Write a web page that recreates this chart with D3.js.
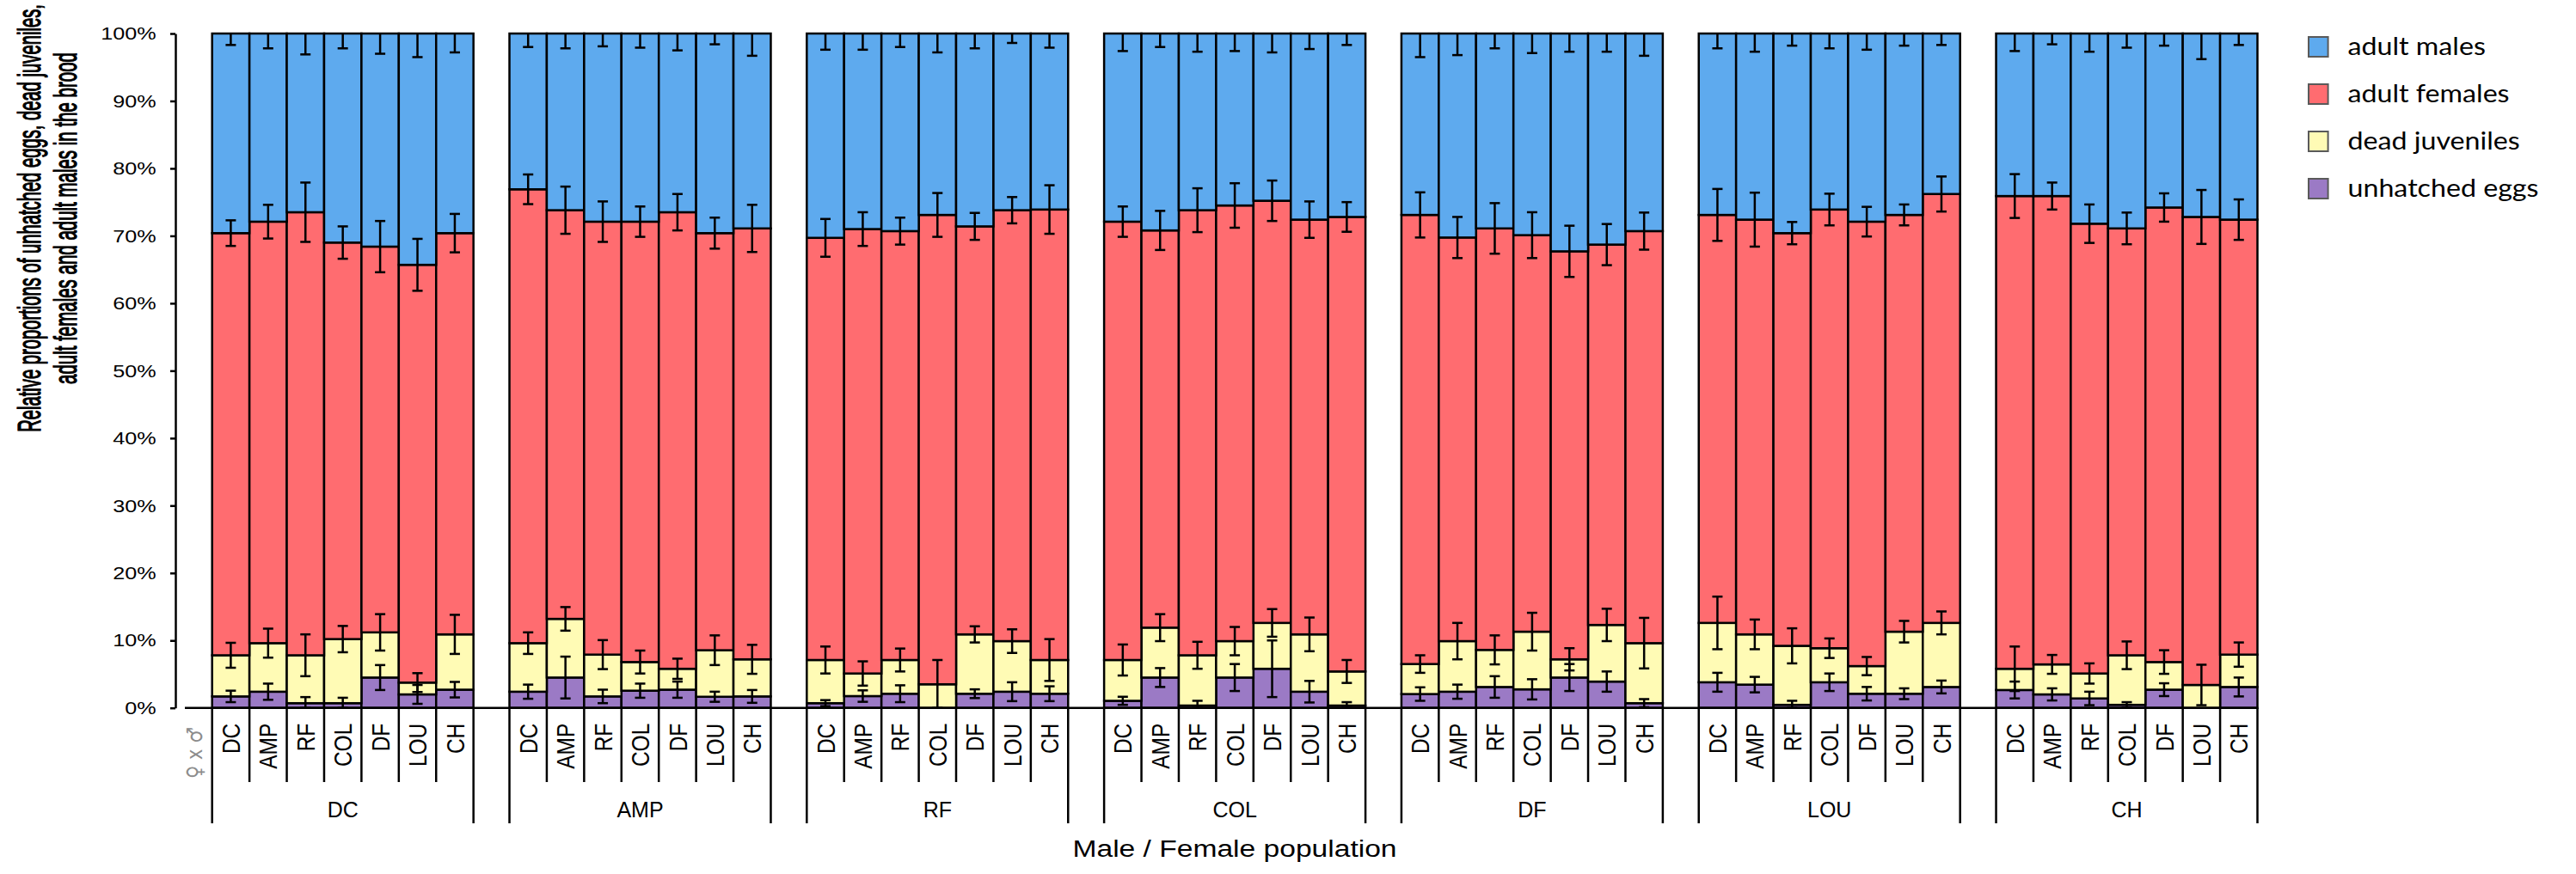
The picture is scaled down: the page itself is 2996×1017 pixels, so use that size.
<!DOCTYPE html>
<html>
<head>
<meta charset="utf-8">
<script src="https://cdn.jsdelivr.net/npm/d3@7"></script>
<style>
  body { margin: 0; background: #fff; }
  svg { display: block; }
  text { font-family: "Liberation Sans", Arial, sans-serif; }
</style>
</head>
<body>
<svg id="chart" width="2996" height="1017"></svg>
<script>
// female population (outer groups) and male population (bars within a group)
var groups = ['DC', 'AMP', 'RF', 'COL', 'DF', 'LOU', 'CH'];
var pops = ['DC', 'AMP', 'RF', 'COL', 'DF', 'LOU', 'CH'];
var keys = ['eggs', 'juveniles', 'females', 'males'];
var legendKeys = ['males', 'females', 'juveniles', 'eggs'];
var legendLabels = ['adult males', 'adult females', 'dead juveniles', 'unhatched eggs'];
var yTicks = [0, 10, 20, 30, 40, 50, 60, 70, 80, 90, 100];
var titleLines = ['Relative proportions of unhatched eggs, dead juveniles,', 'adult females and adult males in the brood'];

// mean share of the brood (%), one row per group, one value per bar
var eggs = [
    [1.7, 2.4, 0.7, 0.7, 4.5, 2.0, 2.7],
    [2.4, 4.5, 1.7, 2.55, 2.7, 1.65, 1.7],
    [0.7, 1.75, 2.1, 0, 2.1, 2.4, 2.1],
    [1.05, 4.5, 0.35, 4.5, 5.8, 2.4, 0.35],
    [2.05, 2.4, 3.1, 2.75, 4.5, 3.9, 0.7],
    [3.8, 3.45, 0.45, 3.8, 2.1, 2.1, 3.1],
    [2.65, 2.0, 1.4, 0.45, 2.7, 0, 3.1]
];
var juveniles = [
    [6.1, 7.2, 7.1, 9.5, 6.7, 1.75, 8.2],
    [7.2, 8.7, 6.2, 4.25, 3.1, 6.9, 5.5],
    [6.4, 3.35, 5.0, 3.5, 8.8, 7.5, 5.0],
    [6.05, 7.4, 7.45, 5.4, 6.8, 8.5, 5.05],
    [4.45, 7.5, 5.5, 8.55, 2.7, 8.4, 8.9],
    [8.8, 7.45, 8.75, 5.05, 4.1, 9.2, 9.5],
    [3.15, 4.45, 3.7, 7.35, 4.1, 3.4, 4.8]
];
var females = [
    [62.6, 62.5, 65.7, 58.8, 57.2, 61.95, 59.5],
    [67.3, 60.6, 64.2, 65.3, 67.7, 61.85, 63.9],
    [62.6, 65.9, 63.6, 69.6, 60.5, 63.9, 66.8],
    [65.0, 58.9, 66.0, 64.6, 62.6, 61.5, 67.4],
    [66.6, 59.85, 62.5, 58.8, 60.5, 56.4, 61.1],
    [60.5, 61.5, 61.2, 65.05, 65.9, 61.8, 63.6],
    [70.1, 69.45, 66.7, 63.3, 67.4, 69.4, 64.5]
];
var males = [
    [29.6, 27.9, 26.5, 31.0, 31.6, 34.3, 29.6],
    [23.1, 26.2, 27.9, 27.9, 26.5, 29.6, 28.9],
    [30.3, 29.0, 29.3, 26.9, 28.6, 26.2, 26.1],
    [27.9, 29.2, 26.2, 25.5, 24.8, 27.6, 27.2],
    [26.9, 30.25, 28.9, 29.9, 32.3, 31.3, 29.3],
    [26.9, 27.6, 29.6, 26.1, 27.9, 26.9, 23.8],
    [24.1, 24.1, 28.2, 28.9, 25.8, 27.2, 27.6]
];

// error bar half-lengths, drawn at the top of each stacked segment
var eggsErr = [
    [0.85, 1.2, 0.9, 0.8, 1.85, 1.4, 1.15],
    [1.05, 3.1, 1.0, 1.05, 1.2, 0.75, 0.95],
    [0.45, 0.85, 1.25, 0, 0.65, 1.4, 1.1],
    [0.6, 1.4, 0.7, 2.0, 4.2, 1.6, 0.5],
    [1.0, 1.05, 1.6, 1.5, 2.0, 1.5, 0.6],
    [1.4, 1.15, 0.6, 1.3, 1.0, 0.8, 0.95],
    [1.25, 0.9, 1.0, 0.4, 0.95, 0, 1.4]
];
var juvErr = [
    [1.85, 2.15, 3.1, 1.95, 2.7, 1.4, 2.9],
    [1.6, 1.75, 2.15, 1.7, 1.5, 2.2, 2.15],
    [2.0, 1.8, 1.7, 3.6, 1.2, 1.75, 3.1],
    [2.3, 2.0, 2.0, 2.1, 2.05, 2.5, 1.7],
    [1.3, 2.7, 2.15, 2.8, 1.65, 2.4, 3.75],
    [3.9, 2.2, 2.6, 1.45, 1.35, 1.6, 1.7],
    [3.3, 1.4, 1.5, 2.05, 1.75, 3.0, 1.8]
];
var femErr = [
    [1.9, 2.5, 4.4, 2.4, 3.8, 3.85, 2.85],
    [2.2, 3.5, 3.0, 2.25, 2.7, 2.3, 3.5],
    [2.8, 2.5, 2.0, 3.25, 2.0, 1.95, 3.6],
    [2.25, 2.9, 3.25, 3.3, 3.0, 2.7, 2.2],
    [3.35, 3.05, 3.75, 3.4, 3.8, 3.05, 2.75],
    [3.85, 4.0, 1.65, 2.35, 2.2, 1.55, 2.6],
    [3.25, 2.0, 2.85, 2.35, 2.1, 4.0, 3.0]
];
var malesErr = [
    [1.7, 2.2, 3.1, 2.2, 3.0, 3.5, 2.8],
    [2.0, 2.2, 1.9, 2.1, 2.5, 1.6, 3.3],
    [2.4, 2.4, 2.0, 2.8, 2.2, 1.4, 2.1],
    [2.6, 2.0, 2.7, 2.6, 2.8, 2.3, 1.7],
    [3.5, 3.2, 2.2, 2.9, 2.7, 2.7, 3.3],
    [2.2, 2.7, 1.8, 2.2, 2.4, 1.8, 1.7],
    [2.6, 1.6, 2.7, 2.1, 1.8, 3.8, 1.7]
];

var colors = { eggs: '#9b7ac5', juveniles: '#fffbb5', females: '#ff6c70', males: '#5eaaee' };

/*************************************************************************/

var svg = d3.select('#chart');
svg.append('rect').attr('width', 2996).attr('height', 1017).attr('fill', '#fff');

var x0 = d3.scaleBand().domain(groups).range([246.7, 2625.5]).paddingInner(0.121).paddingOuter(0);
var x1 = d3.scaleBand().domain(pops).range([0, x0.bandwidth()]).padding(0);
var y = d3.scaleLinear().domain([0, 100]).range([823.7, 39]);

var rows = [];
groups.forEach(function(g, gi){
    pops.forEach(function(p, pi){
        rows.push({
            group: g, pop: p,
            eggs: eggs[gi][pi], juveniles: juveniles[gi][pi],
            females: females[gi][pi], males: males[gi][pi],
            err: [eggsErr[gi][pi], juvErr[gi][pi], femErr[gi][pi], malesErr[gi][pi]]
        });
    });
});
var series = d3.stack().keys(keys)(rows);

function barX(d){ return x0(d.data.group) + x1(d.data.pop); }
function barC(d){ return barX(d) + x1.bandwidth() / 2; }

// stacked segments
var bars = svg.append('g');
bars.selectAll('g').data(series).enter().append('g')
    .attr('fill', function(s){ return colors[s.key]; })
    .selectAll('rect').data(function(s){ return s; }).enter().append('rect')
    .attr('x', barX)
    .attr('y', function(d){ return y(d[1]); })
    .attr('width', x1.bandwidth())
    .attr('height', function(d){ return y(d[0]) - y(d[1]); })
    .attr('stroke', '#000').attr('stroke-width', 2.5);

// error bars (males only get the lower whisker below 100%)
var cap = 6;
var errG = svg.append('g').attr('stroke', '#000').attr('stroke-width', 2.5);
series.forEach(function(s, k){
    s.forEach(function(d){
        var e = d.data.err[k];
        if(!e) return;
        var cx = barC(d);
        var hi = k == 3 ? d[1] : d[1] + e;
        var lo = Math.max(0, d[1] - e);
        errG.append('line').attr('x1', cx).attr('x2', cx).attr('y1', y(hi)).attr('y2', y(lo));
        errG.append('line').attr('x1', cx - cap).attr('x2', cx + cap).attr('y1', y(lo)).attr('y2', y(lo));
        if(k != 3)
            errG.append('line').attr('x1', cx - cap).attr('x2', cx + cap).attr('y1', y(hi)).attr('y2', y(hi));
    });
});

/*************************************************************************/

// y axis
var yAxis = svg.append('g').attr('transform', 'translate(204,0)')
    .call(d3.axisLeft(y).tickValues(yTicks).tickFormat(function(d){ return d + '%'; }).tickSize(6).tickSizeOuter(0));
yAxis.attr('font-family', '"Liberation Sans", Arial, sans-serif').attr('font-size', 21);
yAxis.select('.domain').attr('stroke-width', 2.5);
yAxis.selectAll('.tick line').attr('stroke-width', 2.5);
yAxis.selectAll('.tick text').attr('fill', '#000').attr('x', -22.3 / 1.2).attr('transform', 'scale(1.2,1)');

// baseline
svg.append('line').attr('x1', 215).attr('x2', x0.range()[1] + 1)
    .attr('y1', y(0)).attr('y2', y(0)).attr('stroke', '#000').attr('stroke-width', 2.5);

// separators under the axis
var sep = svg.append('g').attr('stroke', '#000').attr('stroke-width', 2.5);
groups.forEach(function(g){
    d3.range(pops.length + 1).forEach(function(i){
        var xx = x0(g) + i * x1.step();
        var last = (i == 0 || i == pops.length);
        sep.append('line').attr('x1', xx).attr('x2', xx).attr('y1', y(0)).attr('y2', last ? 958 : 910);
    });
});

// bar labels (male population)
var lab = svg.append('g').attr('font-size', 24.5).attr('text-anchor', 'end');
groups.forEach(function(g){
    pops.forEach(function(p){
        var cx = x0(g) + x1(p) + x1.bandwidth() / 2;
        lab.append('text').attr('transform', 'translate(' + cx + ',841.7) scale(1.2,1) rotate(-90)')
            .attr('dy', '0.36em').text(p);
    });
});

// group labels (female population)
svg.append('g').attr('font-size', 25).attr('text-anchor', 'middle')
    .selectAll('text').data(groups).enter().append('text')
    .attr('x', function(g){ return x0(g) + x0.bandwidth() / 2; })
    .attr('y', 951).text(function(g){ return g; });

svg.append('text').attr('transform', 'translate(226,846) scale(1.2,1) rotate(-90)')
    .attr('text-anchor', 'end').attr('dy', '0.36em').attr('font-size', 21)
    .attr('fill', '#8c8c8c').style('font-family', '"DejaVu Sans", sans-serif').text('\u2640 x \u2642');

// axis titles
svg.append('text').attr('transform', 'translate(1436,997) scale(1.2,1)')
    .attr('text-anchor', 'middle').attr('font-size', 28).text('Male / Female population');

// y title is a condensed face in the original: squeeze each line to its length
// and thicken the strokes a little so it doesn't look too thin
var titleX = [47, 89];
var titleLen = [498, 386];
titleLines.forEach(function(t, i){
    var txt = svg.append('text').attr('text-anchor', 'middle').attr('font-size', 31)
        .attr('stroke', '#000').attr('stroke-width', 1.1).text(t);
    var f = titleLen[i] / txt.node().getComputedTextLength();
    txt.attr('transform', 'translate(' + titleX[i] + ',254) scale(1.2,1) rotate(-90) scale(' + f + ',1)');
});

// legend
var leg = svg.append('g').attr('transform', 'translate(2685,43)');
legendKeys.forEach(function(k, i){
    var row = leg.append('g').attr('transform', 'translate(0,' + (i * 55) + ')');
    row.append('rect').attr('width', 22.6).attr('height', 23)
        .attr('fill', colors[k]).attr('stroke', '#5a5a5a').attr('stroke-width', 2);
    row.append('text').attr('transform', 'translate(45.5,11.5) scale(1.15,1)')
        .attr('dy', '0.35em').attr('font-size', 28).style('font-family', 'Lato, "Open Sans", sans-serif')
        .text(legendLabels[i]);
});
</script>
</body>
</html>
